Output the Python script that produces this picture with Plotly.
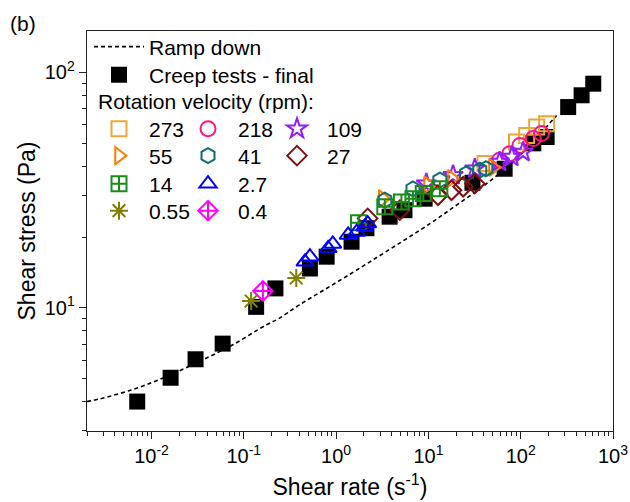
import plotly.graph_objects as go

# ---------------- data ----------------
ramp_x = [0.002, 0.0027, 0.00625, 0.0144, 0.0332, 0.076, 0.175, 0.234, 0.40, 1.29, 10.4, 17.8, 42.6, 90, 245]
ramp_y = [4.0, 4.1, 4.5, 5.1, 5.93, 6.97, 8.47, 8.96, 10.3, 13.6, 22.8, 26.4, 33.7, 43.0, 65.7]

creep_x = [0.007, 0.0161, 0.030, 0.059, 0.136, 0.22, 0.52, 0.79, 1.47, 2.13, 3.8, 5.5, 9.1, 30, 67, 137, 191, 327, 457, 611]
creep_y = [4.0, 5.05, 6.05, 7.05, 10.1, 12.1, 14.7, 16.5, 19.1, 21.8, 24.4, 26.0, 29.1, 34.0, 39.0, 50.0, 53.2, 71.3, 80.0, 89.6]

rpm273_x = [41, 90, 116, 149, 191]
rpm273_y = [41.0, 50.7, 54.0, 58.6, 60.6]

rpm218_x = [59, 76, 98, 137, 168]
rpm218_y = [42.4, 45.2, 49.0, 52.4, 55.0]

rpm109_x = [9.5, 18.5, 31.8, 59, 80, 106]
rpm109_y = [33.7, 36.6, 39.0, 41.7, 43.8, 45.9]

rpm55_x = [3.2, 9.9, 17.8, 50]
rpm55_y = [29.1, 33.3, 35.5, 39.5]

rpm41_x = [3.37, 6.8, 13.3, 25.9, 36, 42]
rpm41_y = [28.7, 32.0, 34.9, 37.2, 38.5, 39.0]

rpm27_x = [2.2, 4.9, 12.7, 17.8, 23.8, 31.8]
rpm27_y = [24.0, 26.0, 30.1, 31.6, 32.7, 33.7]

rpm14_x = [1.75, 3.37, 5.1, 6.8, 8.8, 13.3]
rpm14_y = [23.0, 26.9, 28.2, 29.1, 30.6, 32.1]

rpm2_7_x = [0.46, 0.52, 0.82, 0.92, 1.35, 1.67, 2.04, 2.2]
rpm2_7_y = [15.7, 16.5, 17.9, 18.7, 20.4, 21.0, 22.1, 22.8]

rpm0_55_x = [0.12, 0.37]
rpm0_55_y = [10.7, 13.4]

rpm0_4_x = [0.161]
rpm0_4_y = [11.8]

x_tickvals = [0.01, 0.1, 1, 10, 100, 1000]
x_ticktext = ["10<sup>-2</sup>", "10<sup>-1</sup>", "10<sup>0</sup>", "10<sup>1</sup>", "10<sup>2</sup>", "10<sup>3</sup>"]
y_tickvals = [10, 100]
y_ticktext = ["10<sup>1</sup>", "10<sup>2</sup>"]

# ---------------- figure ----------------
FONT = "Liberation Sans, Arial, sans-serif"
fig = go.Figure()

fig.add_trace(go.Scatter(x=ramp_x, y=ramp_y, mode="lines", name="Ramp down",
                         line=dict(color="black", width=1.6, dash="4px,3px"),
                         line_shape="spline", legend="legend"))
fig.add_trace(go.Scatter(x=creep_x, y=creep_y, mode="markers", name="Creep tests - final",
                         marker=dict(symbol="square", color="black", size=16,
                                     line=dict(width=0)), legend="legend2"))

series = [
    ("273", rpm273_x, rpm273_y, "square-open", "#E8A838", "legend3", None),
    ("218", rpm218_x, rpm218_y, "circle-open", "#FF1480", "legend3", None),
    ("109", rpm109_x, rpm109_y, "star-open", "#8F1DFF", "legend3", 60),
    ("55", rpm55_x, rpm55_y, "triangle-right-open", "#FF7F00", "legend4", None),
    ("41", rpm41_x, rpm41_y, "hexagon-open", "#0F6E6E", "legend4", None),
    ("27", rpm27_x, rpm27_y, "diamond-open", "#7F0F0F", "legend4", 60),
    ("14", rpm14_x, rpm14_y, "square-cross-open", "#1A8C1A", "legend5", None),
    ("2.7", rpm2_7_x, rpm2_7_y, "triangle-up-open", "#0000FF", "legend5", 60),
    ("0.55", rpm0_55_x, rpm0_55_y, "asterisk-open", "#808000", "legend6", None),
    ("0.4", rpm0_4_x, rpm0_4_y, "diamond-cross-open", "#FF00FF", "legend6", 60),
]
for name, xs, ys, sym, col, lg, lw in series:
    tr = go.Scatter(x=xs, y=ys, mode="markers", name=name,
                    marker=dict(symbol=sym, size=15, color=col,
                                line=dict(color=col, width=2)),
                    legend=lg)
    if lw:
        tr.legendwidth = lw
    fig.add_trace(tr)

# plot-area geometry (pixels)
L, R, T, B = 87, 17, 31, 71
W, H = 630, 502
pw, ph = W - L - R, H - T - B

def px_x(p):
    return (p - L) / pw

def px_y(p):
    return (H - B - p) / ph

leg_common = dict(font=dict(family=FONT, size=21, color="black"),
                  bgcolor="rgba(0,0,0,0)", borderwidth=0, itemwidth=50,
                  xanchor="left", yanchor="middle", x=px_x(89),
                  tracegroupgap=0, itemclick=False, itemdoubleclick=False)
row_common = dict(leg_common, orientation="h", entrywidth=24, entrywidthmode="pixels")

fig.update_layout(
    template="none",
    width=W, height=H,
    margin=dict(l=L, r=R, t=T, b=B, autoexpand=False),
    plot_bgcolor="white", paper_bgcolor="white",
    font=dict(family=FONT, color="black"),
    legend=dict(leg_common, y=px_y(47)),
    legend2=dict(leg_common, y=px_y(75)),
    legend3=dict(row_common, y=px_y(129)),
    legend4=dict(row_common, y=px_y(156)),
    legend5=dict(row_common, y=px_y(184)),
    legend6=dict(row_common, y=px_y(211)),
    showlegend=True,
)

axis_common = dict(type="log", showgrid=False, zeroline=False, showline=True,
                   linecolor="#222", linewidth=1.4, mirror=True, automargin=False,
                   ticks="outside", ticklen=7, tickwidth=1.2, tickcolor="#222",
                   tickfont=dict(family=FONT, size=20, color="black"),
                   tickmode="array")

fig.update_xaxes(axis_common, range=[-2.699, 3], tickvals=x_tickvals, ticktext=x_ticktext,
                 minor=dict(ticks="outside", ticklen=4, tickwidth=1.2, tickcolor="#222", dtick="D1"),
                 title=dict(text="Shear rate (s<sup>-1</sup>)", font=dict(family=FONT, size=23), standoff=12))
fig.update_yaxes(axis_common, range=[0.4771, 2.1761], tickvals=y_tickvals, ticktext=y_ticktext,
                 minor=dict(ticks="outside", ticklen=4, tickwidth=1.2, tickcolor="#222", dtick="D1"),
                 title=dict(text="Shear stress (Pa)", font=dict(family=FONT, size=23), standoff=2))

fig.add_annotation(text="Rotation velocity (rpm):", xref="paper", yref="paper",
                   x=px_x(96), y=px_y(101), xanchor="left", yanchor="middle",
                   showarrow=False, font=dict(family=FONT, size=21, color="black"))
fig.add_annotation(text="(b)", xref="paper", yref="paper",
                   x=px_x(8), y=px_y(24), xanchor="left", yanchor="middle",
                   showarrow=False, font=dict(family=FONT, size=21, color="black"))

fig.write_html("out.html")
